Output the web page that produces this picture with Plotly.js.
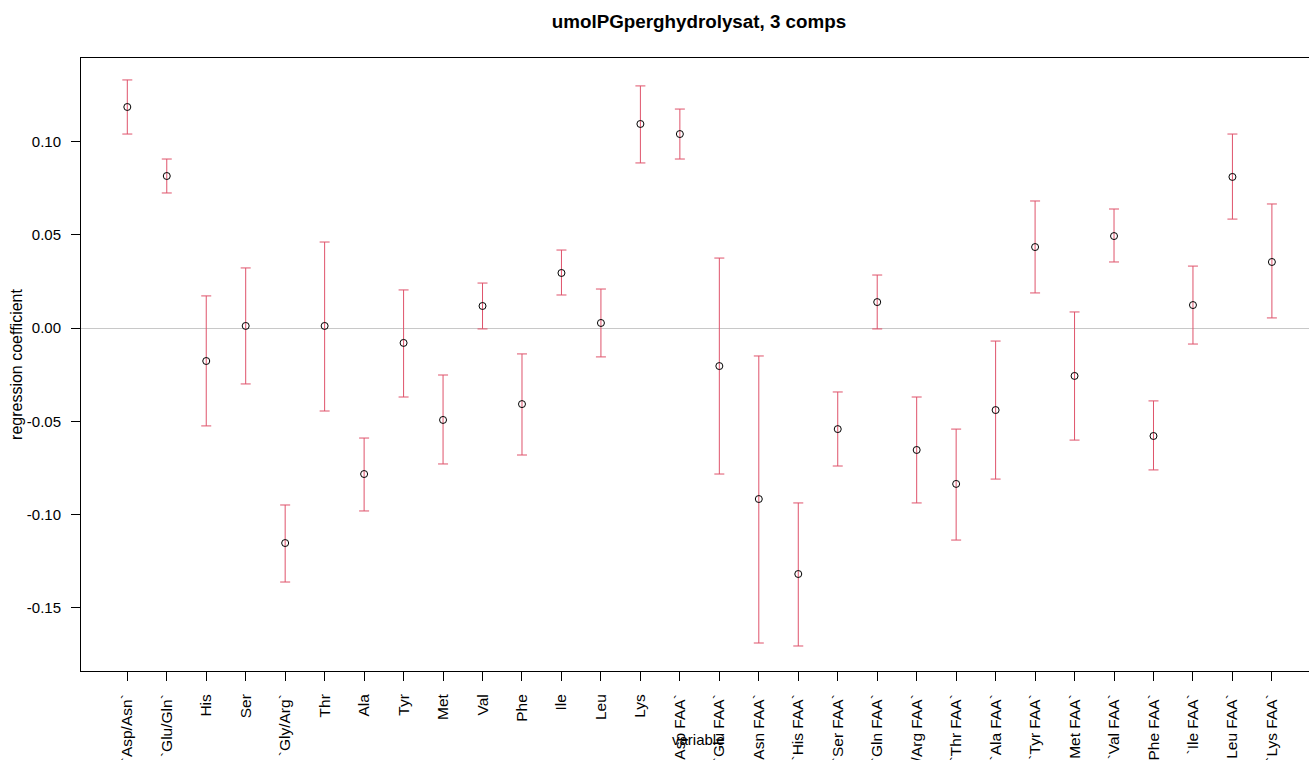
<!DOCTYPE html>
<html>
<head>
<meta charset="utf-8">
<script src="https://cdn.plot.ly/plotly-3.0.1.min.js"></script>
<style>
  html, body { margin: 0; padding: 0; overflow: hidden; background: #ffffff; }
  #chart { width: 1330px; height: 760px; }
</style>
</head>
<body>
<div id="chart"></div>
<script>
// Variables (hydrolysate amino acids, then free amino acids)
const variables = [
  "`Asp/Asn`", "`Glu/Gln`", "His", "Ser", "`Gly/Arg`", "Thr", "Ala", "Tyr", "Met", "Val",
  "Phe", "Ile", "Leu", "Lys", "`Asp FAA`", "`Glu FAA`", "`Asn FAA`", "`His FAA`", "`Ser FAA`", "`Gln FAA`",
  "`Gly/Arg FAA`", "`Thr FAA`", "`Ala FAA`", "`Tyr FAA`", "`Met FAA`", "`Val FAA`", "`Phe FAA`", "`Ile FAA`", "`Leu FAA`", "`Lys FAA`"
];

// Regression coefficients
const coef = [
  0.1185, 0.0815, -0.0177, 0.0011, -0.1153, 0.0011, -0.0783, -0.0080, -0.0493, 0.0118,
  -0.0408, 0.0295, 0.0027, 0.1094, 0.1040, -0.0204, -0.0917, -0.1319, -0.0542, 0.0139,
  -0.0654, -0.0836, -0.0440, 0.0434, -0.0257, 0.0493, -0.0579, 0.0123, 0.0810, 0.0354
];

// Upper and lower interval limits
const upper = [
  0.1330, 0.0906, 0.0172, 0.0322, -0.0949, 0.0461, -0.0590, 0.0204, -0.0252, 0.0241,
  -0.0139, 0.0418, 0.0209, 0.1298, 0.1174, 0.0375, -0.0150, -0.0938, -0.0343, 0.0284,
  -0.0370, -0.0542, -0.0070, 0.0681, 0.0086, 0.0638, -0.0391, 0.0332, 0.1040, 0.0665
];
const lower = [
  0.1040, 0.0724, -0.0525, -0.0300, -0.1362, -0.0445, -0.0981, -0.0370, -0.0729, -0.0005,
  -0.0681, 0.0177, -0.0155, 0.0885, 0.0906, -0.0783, -0.1689, -0.1705, -0.0740, -0.0005,
  -0.0938, -0.1137, -0.0810, 0.0188, -0.0601, 0.0354, -0.0761, -0.0086, 0.0584, 0.0054
];

// Y axis ticks
const yTickVals = [-0.15, -0.10, -0.05, 0.00, 0.05, 0.10];
const yTickText = ["-0.15", "-0.10", "-0.05", "0.00", "0.05", "0.10"];

const idx = variables.map((_, i) => i);
const errPlus = upper.map((u, i) => u - coef[i]);
const errMinus = lower.map((l, i) => coef[i] - l);

const trace = {
  type: "scatter",
  mode: "markers",
  x: idx,
  y: coef,
  marker: { symbol: "circle-open", size: 7, color: "#000000", line: { width: 1, color: "#000000" } },
  error_y: {
    type: "data",
    symmetric: false,
    array: errPlus,
    arrayminus: errMinus,
    color: "#DF536B",
    thickness: 1,
    width: 5
  },
  hoverinfo: "x+y",
  showlegend: false
};

const font = "Liberation Sans, Arial, Helvetica, sans-serif";

const layout = {
  width: 1330,
  height: 760,
  margin: { l: 81, r: 6, t: 58, b: 89 },
  paper_bgcolor: "#ffffff",
  plot_bgcolor: "#ffffff",
  font: { family: font, color: "#000000" },
  title: {
    text: "umolPGperghydrolysat, 3 comps",
    font: { family: font, size: 18.8, weight: "bold", color: "#000000" },
    xref: "container", yref: "container",
    x: 699 / 1330, xanchor: "center",
    y: 1 - 21 / 760, yanchor: "middle"
  },
  xaxis: {
    range: [-1.173, 30.32],
    tickmode: "array",
    tickvals: idx,
    ticktext: variables,
    tickangle: -90,
    ticks: "outside",
    ticklen: 9,
    tickwidth: 1,
    tickcolor: "#000000",
    ticklabelstandoff: 7,
    tickfont: { family: font, size: 15.5, color: "#000000" },
    showline: true,
    mirror: true,
    linecolor: "#000000",
    linewidth: 1,
    showgrid: false,
    zeroline: false,
    automargin: false
  },
  yaxis: {
    range: [-0.18391, 0.14477],
    tickmode: "array",
    tickvals: yTickVals,
    ticktext: yTickText,
    ticks: "outside",
    ticklen: 9,
    tickwidth: 1,
    tickcolor: "#000000",
    ticklabelstandoff: 7,
    tickfont: { family: font, size: 15, color: "#000000" },
    showline: true,
    mirror: true,
    linecolor: "#000000",
    linewidth: 1,
    showgrid: false,
    zeroline: true,
    zerolinecolor: "#c8c8c8",
    zerolinewidth: 1,
    automargin: false,
    title: {
      text: "regression coefficient",
      font: { family: font, size: 16, color: "#000000" },
      standoff: 0
    }
  },
  annotations: [{
    text: "variable",
    xref: "paper", yref: "paper",
    x: (698 - 81) / 1243, y: -(739 - 671) / 613,
    xanchor: "center", yanchor: "middle",
    showarrow: false,
    font: { family: font, size: 15, color: "#000000" }
  }]
};

Plotly.newPlot("chart", [trace], layout, { displayModeBar: false });
</script>
</body>
</html>
